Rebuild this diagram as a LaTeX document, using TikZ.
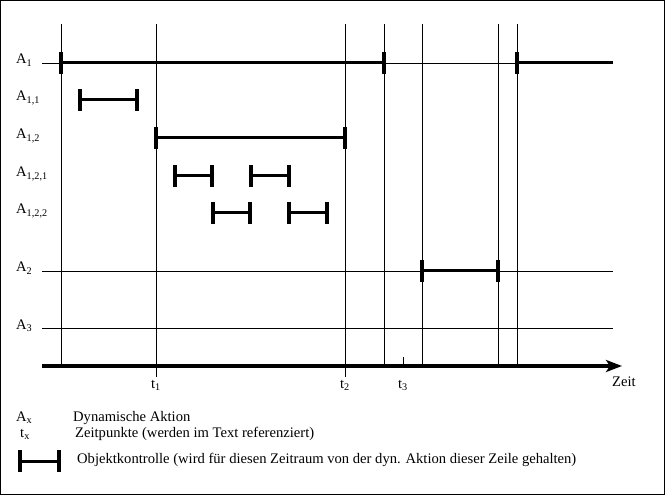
\documentclass[tikz,border=0pt]{standalone}
\usepackage{fontspec}
\setmainfont{Liberation Serif}
\usepackage{tikz}
\usetikzlibrary{
    arrows.meta,
    positioning
}

\begin{document}
\begin{tikzpicture}[x=1pt, y=-1pt,
    every node/.style={font=\fontsize{14.6}{16}\selectfont, inner sep=0pt},
    rowline/.style={line width=0.7pt},
    timeline/.style={line width=0.8pt},
    ctrl/.style={line width=3pt},
    ctrlcap/.style={line width=4pt},
    zeitachse/.style={line width=4pt, -{Stealth[length=16pt, width=12pt, inset=4pt]}}
]
\useasboundingbox (0,0) rectangle (667,497);
\draw[line width=1pt] (0.5,0.5) rectangle (664,494);
% Zeilen
\foreach \name/\txt/\y in {a1/1/63, a11/{1,1}/100, a12/{1,2}/138, a121/{1,2,1}/176, a122/{1,2,2}/213, a2/2/271, a3/3/328}
    \node[anchor=base west] (\name) at (16,\y+1) {A\textsubscript{\txt}};
\coordinate (links) at (42,0);
\coordinate (rechts) at (613,0);
\foreach \y in {63, 271, 328}
    \draw[rowline] (links |- 0,\y) -- (rechts |- 0,\y);
% Zeitachse
\coordinate (achse) at (42,366);
\coordinate (ende) at (622,366);
\draw[zeitachse] (achse) -- (ende);
\node[anchor=base west] (zeit) at (612,386) {Zeit};
% senkrechte Linien
\foreach \x in {61, 384, 422, 498, 517}
    \draw[timeline] (\x,24) -- (\x,366);
\foreach \x/\t in {156/1, 345/2}
{
    \draw[timeline] (\x,24) -- (\x,377);
    \node[anchor=base] (t\t) at (\x,388) {t\textsubscript{\t}};
}
\draw[timeline] (403,357) -- (403,366);
\node[anchor=base] (t3) at (403,388) {t\textsubscript{3}};
% Objektkontrolle
\foreach \a/\b/\y in {61/384/63, 80/137/100, 156/345/138, 175/212/176, 251/289/176, 213/250/213, 289/327/213, 422/498/271}
{
    \draw[ctrl] (\a,\y) -- (\b,\y);
    \draw[ctrlcap] (\a,\y-11) -- (\a,\y+11);
    \draw[ctrlcap] (\b,\y-11) -- (\b,\y+11);
}
\draw[ctrl] (517,63) -- (613,63);
\draw[ctrlcap] (517,52) -- (517,74);
% Legende
\node[anchor=base west] (lax) at (16,421) {A\textsubscript{x}};
\node[anchor=base west] (ltxa) at (73,421) {Dynamische Aktion};
\node[anchor=base west] (ltx) at (20,437) {t\textsubscript{x}};
\node[anchor=base west] (ltxt) at (75,437) {Zeitpunkte (werden im Text referenziert)};
\draw[ctrl] (20,461) -- (59,461);
\draw[ctrlcap] (20,450) -- (20,472);
\draw[ctrlcap] (59,450) -- (59,472);
\node[anchor=base west] (lctrl) at (77,463) {Objektkontrolle (wird für diesen Zeitraum von der dyn. Aktion dieser Zeile gehalten)};
\end{tikzpicture}
\end{document}
